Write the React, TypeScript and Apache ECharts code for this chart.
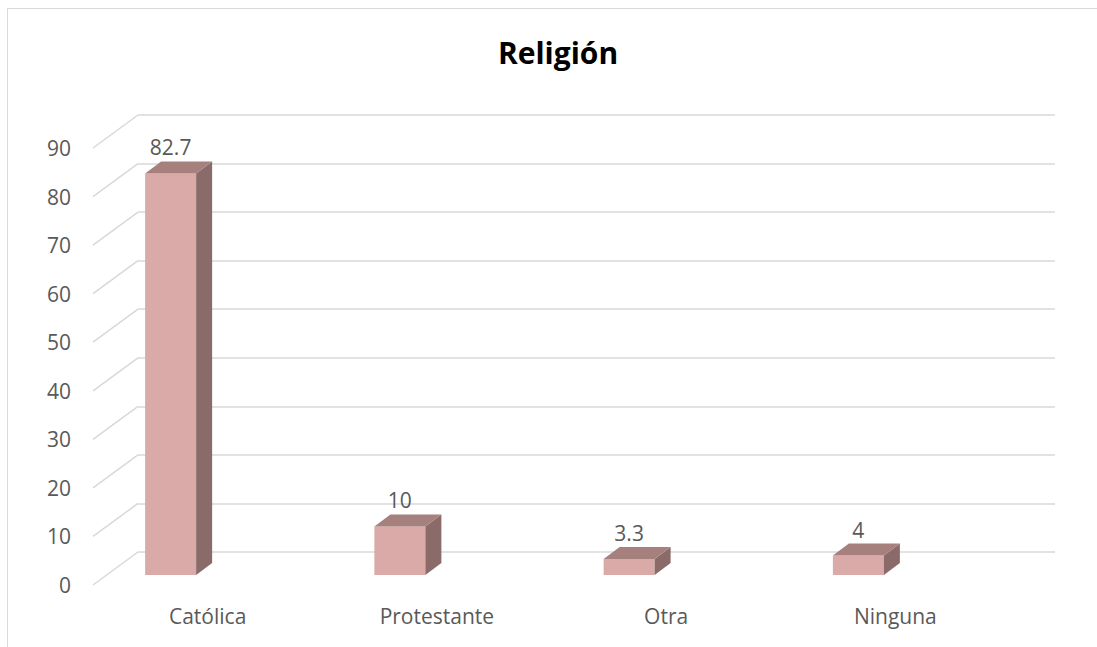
import React, { useEffect, useRef } from "react";
import * as echarts from "echarts";

const categories = ["Católica", "Protestante", "Otra", "Ninguna"];
const values = [82.7, 10, 3.3, 4];
const yTicks = [0, 10, 20, 30, 40, 50, 60, 70, 80, 90];
const titleText = "Religión";

const FRONT = "#D9AAA7";
const TOP = "#A6807D";
const SIDE = "#8A6B6A";
const GRID = "#D9D9D9";
const TEXT = "#595959";
const FONT = "Open Sans";

// 3D depth of the wall (front plane -> back wall)
const WALL_DX = 45;
const WALL_DY = -33;
// bar placement relative to front plane
const BAR_SHIFT_X = -37;
const BAR_SHIFT_Y = -10;
const BAR_W = 51;
const BAR_DX = 16;
const BAR_DY = -12;

export default function App() {
  const ref = useRef<HTMLDivElement>(null);
  useEffect(() => {
    if (!ref.current) return;
    const chart = echarts.init(ref.current, null, { renderer: "svg" });
    chart.setOption({
      animation: false,
      backgroundColor: "#ffffff",
      title: {
        text: titleText,
        left: 553,
        top: 32,
        textAlign: "center",
        textStyle: { fontFamily: FONT, fontWeight: "bold", fontSize: 30, color: "#000000" },
      },
      graphic: [
        {
          type: "rect",
          shape: { x: 7.5, y: 8.5, width: 1300, height: 900 },
          style: { fill: "none", stroke: GRID, lineWidth: 1 },
          silent: true,
        },
      ],
      grid: [
        { left: 93, right: 87, top: 148, bottom: 62 },
        { left: 93 + WALL_DX, right: 87 - WALL_DX, top: 148 + WALL_DY, bottom: 62 - WALL_DY },
      ],
      xAxis: [
        {
          gridIndex: 0,
          type: "category",
          data: categories,
          axisLine: { show: false },
          axisTick: { show: false },
          axisLabel: { fontFamily: FONT, fontSize: 21, color: TEXT, margin: 20 },
        },
        {
          gridIndex: 1,
          type: "category",
          data: categories,
          show: false,
        },
      ],
      yAxis: [
        {
          gridIndex: 0,
          type: "value",
          min: 0,
          max: 90,
          interval: 10,
          axisLine: { show: false },
          axisTick: { show: false },
          splitLine: { show: false },
          axisLabel: { fontFamily: FONT, fontSize: 21, color: TEXT, margin: 22 },
        },
        {
          gridIndex: 1,
          type: "value",
          min: 0,
          max: 90,
          interval: 10,
          axisLine: { show: false },
          axisTick: { show: false },
          axisLabel: { show: false },
          splitLine: { show: true, lineStyle: { color: GRID, width: 1.5 } },
        },
      ],
      series: [
        {
          type: "custom",
          xAxisIndex: 0,
          yAxisIndex: 0,
          silent: true,
          data: yTicks.map((v) => [0, v]),
          encode: { x: 0, y: 1 },
          renderItem: (params: any, api: any) => {
            const y = api.coord([0, api.value(1)])[1];
            const x = params.coordSys.x;
            return {
              type: "line",
              shape: { x1: x, y1: y, x2: x + WALL_DX, y2: y + WALL_DY },
              style: { stroke: GRID, lineWidth: 1.5 },
            };
          },
          z: 1,
        },
        {
          type: "custom",
          xAxisIndex: 0,
          yAxisIndex: 0,
          silent: true,
          data: values.map((v, i) => [i, v]),
          encode: { x: 0, y: 1 },
          renderItem: (params: any, api: any) => {
            const cat = api.value(0);
            const v = api.value(1);
            const base = api.coord([cat, 0]);
            const top = api.coord([cat, v]);
            const cx = base[0] + BAR_SHIFT_X;
            const x0 = cx - BAR_W / 2;
            const x1 = cx + BAR_W / 2;
            const yb = base[1] + BAR_SHIFT_Y;
            const yt = top[1] + BAR_SHIFT_Y;
            return {
              type: "group",
              children: [
                {
                  type: "polygon",
                  shape: { points: [[x0, yt], [x1, yt], [x1, yb], [x0, yb]] },
                  style: { fill: FRONT },
                },
                {
                  type: "polygon",
                  shape: {
                    points: [[x1, yt], [x1 + BAR_DX, yt + BAR_DY], [x1 + BAR_DX, yb + BAR_DY], [x1, yb]],
                  },
                  style: { fill: SIDE },
                },
                {
                  type: "polygon",
                  shape: {
                    points: [[x0, yt], [x0 + BAR_DX, yt + BAR_DY], [x1 + BAR_DX, yt + BAR_DY], [x1, yt]],
                  },
                  style: { fill: TOP },
                },
                {
                  type: "text",
                  style: {
                    text: String(values[params.dataIndex]),
                    x: cx,
                    y: yt - 26,
                    align: "center",
                    verticalAlign: "middle",
                    fontFamily: FONT,
                    fontSize: 21,
                    fill: TEXT,
                  },
                },
              ],
            };
          },
          z: 3,
        },
      ],
    });
    return () => chart.dispose();
  }, []);
  return (
    <div
      ref={ref}
      style={{ position: "fixed", left: 0, top: 0, width: 1097, height: 647 }}
    />
  );
}
